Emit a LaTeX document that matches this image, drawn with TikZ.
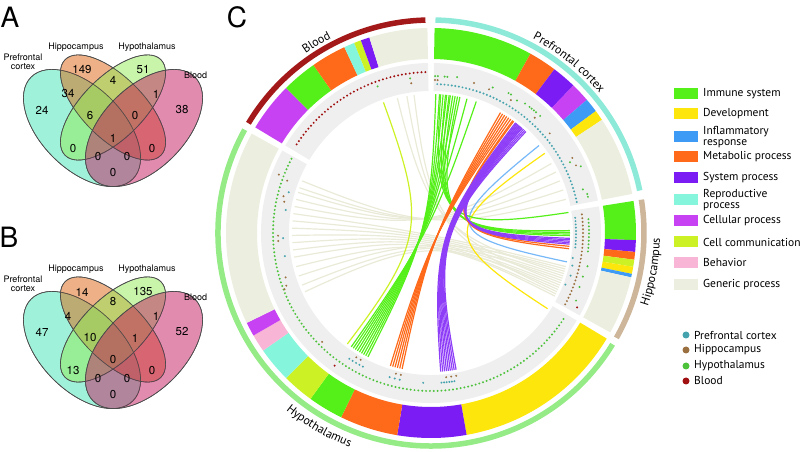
\documentclass[tikz,border=0pt]{standalone}
\usepackage{fontspec}
\setmainfont{TeX Gyre Heros}
\newfontfamily\circfont{PT Sans}
\usetikzlibrary{decorations.text}
\definecolor{ImmuneGreen}{HTML}{55F01A}
\definecolor{DevYellow}{HTML}{FCE60C}
\definecolor{InflamBlue}{HTML}{3D9AF5}
\definecolor{MetabOrange}{HTML}{FF6A1A}
\definecolor{SysViolet}{HTML}{7B1CF5}
\definecolor{ReproAqua}{HTML}{85F5DC}
\definecolor{CellMagenta}{HTML}{C642F2}
\definecolor{CommLime}{HTML}{CCF226}
\definecolor{BehavPink}{HTML}{F9B5D5}
\definecolor{GenericBeige}{HTML}{ECEEDF}
\definecolor{TrackGrey}{HTML}{EFEFEF}
\definecolor{ChordBeige}{HTML}{EAEAD8}
\definecolor{RingBlood}{HTML}{A31818}
\definecolor{RingPFC}{HTML}{8DEAD8}
\definecolor{RingHippo}{HTML}{CDB69A}
\definecolor{RingHypo}{HTML}{95EB86}
\definecolor{DotPFC}{HTML}{45A3AD}
\definecolor{DotHippo}{HTML}{9B7040}
\definecolor{DotHypo}{HTML}{4CC23A}
\definecolor{DotBlood}{HTML}{A01010}
\definecolor{VennPFC}{HTML}{40E6B4}
\definecolor{VennHippo}{HTML}{DD6410}
\definecolor{VennHypo}{HTML}{91EB55}
\definecolor{VennBlood}{HTML}{C3195F}

\begin{document}
\begin{tikzpicture}[x=1pt,y=1pt,
  vennset/.style={draw=black!70,line width=0.6pt,fill opacity=0.5},
  vennnum/.style={font=\fontsize{11.5}{12}\selectfont,inner sep=0pt},
  vennlab/.style={font=\fontsize{9}{9.5}\selectfont,align=center,inner sep=0pt},
  panel/.style={font=\fontsize{28}{28}\selectfont,inner sep=0pt},
  chord/.style={line width=1.2pt},
  legtext/.style={font=\circfont\fontsize{11.5}{10.5}\selectfont,anchor=west,align=left,inner sep=0pt}]
\useasboundingbox (0,0) rectangle (800,452);

% panel letters
\node[panel] (letA) at (10,435) {A};
\node[panel] (letB) at (9,215) {B};
\node[panel] (letC) at (237,435) {C};

% Venn diagrams A (top) and B (bottom)
\foreach \dy in {0,222} {
  \fill[vennset,fill=VennPFC,shift={(82,324-\dy)},rotate=-45] (0,0) ellipse[x radius=72,y radius=41];
  \fill[vennset,fill=VennHippo,shift={(113,344.5-\dy)},rotate=-45] (0,0) ellipse[x radius=67.7,y radius=30.8];
  \fill[vennset,fill=VennHypo,shift={(113,344.5-\dy)},rotate=45] (0,0) ellipse[x radius=67.7,y radius=30.8];
  \fill[vennset,fill=VennBlood,shift={(144,324-\dy)},rotate=45] (0,0) ellipse[x radius=72,y radius=41];
  \draw[draw=black!70,line width=0.6pt,shift={(82,324-\dy)},rotate=-45] (0,0) ellipse[x radius=72,y radius=41];
  \draw[draw=black!70,line width=0.6pt,shift={(113,344.5-\dy)},rotate=-45] (0,0) ellipse[x radius=67.7,y radius=30.8];
  \draw[draw=black!70,line width=0.6pt,shift={(113,344.5-\dy)},rotate=45] (0,0) ellipse[x radius=67.7,y radius=30.8];
  \draw[draw=black!70,line width=0.6pt,shift={(144,324-\dy)},rotate=45] (0,0) ellipse[x radius=72,y radius=41];
  \node[vennlab] (labPFC\dy) at (23,390-\dy) {Prefrontal\\cortex};
  \node[vennlab] (labHippo\dy) at (76,405-\dy) {Hippocampus};
  \node[vennlab] (labHypo\dy) at (147,405-\dy) {Hypothalamus};
  \node[vennlab,anchor=west] (labBlood\dy) at (184,377-\dy) {Blood};
}
\foreach \n/\x/\y [count=\i] in {24/42/110,149/82/70,51/143/70,38/182/110,34/68/94,4/113/80,
  1/156/94,6/90/116,0/135/116,1/113/138,0/73/149,0/152/149,0/98/157,0/127/157,0/113/173}
  \node[vennnum] (numA\i) at (\x,452-\y) {\n};
\foreach \n/\x/\y [count=\i] in {47/42/110,14/82/70,135/143/70,52/182/110,4/68/94,8/113/80,
  1/156/94,10/90/116,1/135/116,0/113/138,13/73/149,0/152/149,0/98/157,0/127/157,0/113/173}
  \node[vennnum] (numB\i) at (\x,230-\y) {\n};

% circos plot
\begin{scope}[shift={(431,219)}]
  % grey tracks
  \foreach \s/\e in {91/149,11/89,-29/9,-209/-31}
    \fill[TrackGrey] (\s:142) arc[start angle=\s,end angle=\e,radius=142]
      -- (\e:170) arc[start angle=\e,end angle=\s,radius=170] -- cycle;
  % category bands
  \foreach \s/\e/\c in {135/149/CellMagenta,125/135/ImmuneGreen,115/125/MetabOrange,
      112/115/ReproAqua,110/112/CommLime,107.5/110/SysViolet,91/107.5/GenericBeige,
      61/89/ImmuneGreen,53/61/MetabOrange,46/53/SysViolet,40.5/46/CellMagenta,
      36.5/40.5/InflamBlue,33.5/36.5/DevYellow,11/33.5/GenericBeige,
      -2/9/ImmuneGreen,-5.3/-2/SysViolet,-7.5/-5.3/MetabOrange,-9.5/-7.5/CommLime,
      -11.5/-9.5/DevYellow,-12.5/-11.5/InflamBlue,-29/-12.5/GenericBeige,
      -80/-31/DevYellow,-99.5/-80/SysViolet,-116/-99.5/MetabOrange,-126/-116/ImmuneGreen,
      -135/-126/CommLime,-145/-135/ReproAqua,-150/-145/BehavPink,-154/-150/CellMagenta,
      -209/-154/GenericBeige}
    \fill[\c] (\s:174) arc[start angle=\s,end angle=\e,radius=174]
      -- (\e:205) arc[start angle=\e,end angle=\s,radius=205] -- cycle;
  % outer rings
  \foreach \s/\e/\c in {91.5/149/RingBlood,11.5/88.8/RingPFC,-29.5/9/RingHippo,-209/-31.5/RingHypo}
    \draw[\c,line width=5.5pt] (\s:213) arc[start angle=\s,end angle=\e,radius=213];
  % sector labels
  \path[decorate,decoration={text along path,text align=center,
      text={|\circfont\fontsize{12}{12}\selectfont|Blood}}]
    (136:219) arc[start angle=136,end angle=106,radius=219];
  \path[decorate,decoration={text along path,text align=center,
      text={|\circfont\fontsize{12}{12}\selectfont|Prefrontal cortex}}]
    (75:219) arc[start angle=75,end angle=27,radius=219];
  \path[decorate,decoration={text along path,text align=center,
      text={|\circfont\fontsize{12}{12}\selectfont|Hippocampus}}]
    (-32:229) arc[start angle=-32,end angle=12,radius=229];
  \path[decorate,decoration={text along path,text align=center,
      text={|\circfont\fontsize{12}{12}\selectfont|Hypothalamus}}]
    (-148:229) arc[start angle=-148,end angle=-92,radius=229];
  % dot rows
  \foreach \a in {92,93.4,...,147} \fill[DotBlood] (\a:161) circle (1.1);
  \foreach \a in {12,13.4,...,88} \fill[DotPFC] (\a:149) circle (1.1);
  \foreach \a in {-28,-26.6,...,8} \fill[DotHippo] (\a:152) circle (1.1);
  \foreach \a in {6,4.7,...,-6} \fill[DotPFC] (\a:145) circle (1.1);
  \foreach \a in {5,3.7,...,-7} \fill[DotHypo] (\a:158) circle (1.1);
  \foreach \a in {-208,-206.6,...,-32} \fill[DotHypo] (\a:158) circle (1.1);
  % scattered dots
  \foreach \a/\r/\c in {97.7/156/DotHypo,97.5/151/DotHippo,110/156/DotHypo,
      88.5/157/DotHypo,87.5/157/DotHypo,85/157/DotHypo,84/157/DotHypo,80.5/158/DotHypo,
      88.5/153/DotHippo,87.5/153/DotHippo,74/156/DotHippo,68/155/DotHippo,67/158/DotHypo,
      61/160/DotHypo,60/160/DotHypo,59/155/DotHippo,57/158/DotHypo,54/160/DotHypo,
      52/160/DotHypo,51/160/DotHypo,50/160/DotHypo,49/160/DotHypo,48/155/DotHippo,
      47/160/DotHypo,40/155/DotHippo,28/160/DotHippo,27/156/DotHypo,25/160/DotHippo,
      24/164/DotHypo,16/158/DotHypo,14/161/DotHypo,13/161/DotHypo,
      -10/144/DotPFC,-13/145/DotPFC,-17/146/DotPFC,-21/144/DotPFC,-12/160/DotHypo,
      -16/158/DotHypo,-20/158/DotHypo,-25/160/DotHypo,-27/164/DotBlood,
      -123/150/DotPFC,-121.5/150/DotPFC,-120/150/DotPFC,-118.5/150/DotPFC,-117/150/DotPFC,
      -121/145/DotHippo,-119/145/DotHippo,-126/164/DotBlood,-106/150/DotPFC,-104/150/DotPFC,
      -102/150/DotPFC,-104/145/DotHippo,-102/145/DotHippo,-93/150/DotPFC,-86/150/DotPFC,
      -85/150/DotPFC,-84/150/DotPFC,-83/150/DotPFC,-82/150/DotPFC,-81/150/DotPFC,
      -84/145/DotHippo,-82/145/DotHippo,-80/145/DotHippo,-135/154/DotHippo,
      159/163/DotHippo,160/153/DotHippo,164/148/DotPFC,166/152/DotHippo,168/150/DotHippo,
      171/147/DotPFC,181/153/DotHippo,182/148/DotPFC,183/153/DotHippo,189/148/DotPFC,
      197/152/DotHippo,200/154/DotHippo,201/157/DotHippo}
    \fill[\c] (\a:\r) circle (1.1);
  % chords
  \foreach \a/\b in {158/14,161/18,163/22,166/26,169/30,172/-14,175/-16,178/-18,181/-20,
      184/-22,187/-24,190/-26,194/-27,198/-15,202/-19,205/-23,97/-21,100/-25,104/-17}
    \draw[chord,ChordBeige] (\a:139) .. controls (\a:12) and (\b:12) .. (\b:139);
  \draw[chord,CommLime] (110:139) .. controls (110:12) and (-127:12) .. (-127:139);
  \draw[chord,DevYellow] (35:139) .. controls (35:12) and (-33:12) .. (-33:139);
  \draw[chord,InflamBlue!70] (39:139) .. controls (39:12) and (-12:12) .. (-12:139);
  \foreach \a/\b in {88/-117,86.5/-118,85/-119,83.5/-120,82/-121,80/-122,78/-123,75/-124,
      71/-125,86/8.5,84/1,82.5/0.3,81/-0.4,79/-1.1}
    \draw[chord,ImmuneGreen] (\a:139) .. controls (\a:12) and (\b:12) .. (\b:139);
  \foreach \a/\b in {60/-102,59/-103,58/-104,57/-105,56/-106,55/-107,54/-5.5,53.5/-6.5}
    \draw[chord,MetabOrange] (\a:139) .. controls (\a:12) and (\b:12) .. (\b:139);
  \foreach \a/\b in {52.5/-86,51.8/-85.2,51.1/-84.4,50.4/-83.6,49.7/-82.8,49/-82,48.3/-81.2,
      47.6/-80.4,46.9/-79.6,52/-2.2,51.3/-2.8,50.6/-3.4,49.9/-4,49.2/-4.6}
    \draw[chord,SysViolet!85] (\a:139) .. controls (\a:12) and (\b:12) .. (\b:139);
\end{scope}

% legend
\foreach \c/\t/\y [count=\i] in {ImmuneGreen/Immune system/358,DevYellow/Development/338,
    InflamBlue/{Inflammatory\\response}/315,MetabOrange/Metabolic process/295,
    SysViolet/System process/274,ReproAqua/{Reproductive\\process}/252,
    CellMagenta/Cellular process/231,CommLime/Cell communication/210,
    BehavPink/Behavior/189,GenericBeige/Generic process/167} {
  \fill[\c] (674,\y-5.5) rectangle (698,\y+5.5);
  \node[legtext] (leg\i) at (703,\y) {\t};
}
\foreach \c/\t/\y [count=\i] in {DotPFC/Prefrontal cortex/117,DotHippo/Hippocampus/102,
    DotHypo/Hypothalamus/86,DotBlood/Blood/71} {
  \fill[\c] (686,\y) circle (3.5);
  \node[legtext] (dleg\i) at (694,\y) {\t};
}
\end{tikzpicture}
\end{document}
